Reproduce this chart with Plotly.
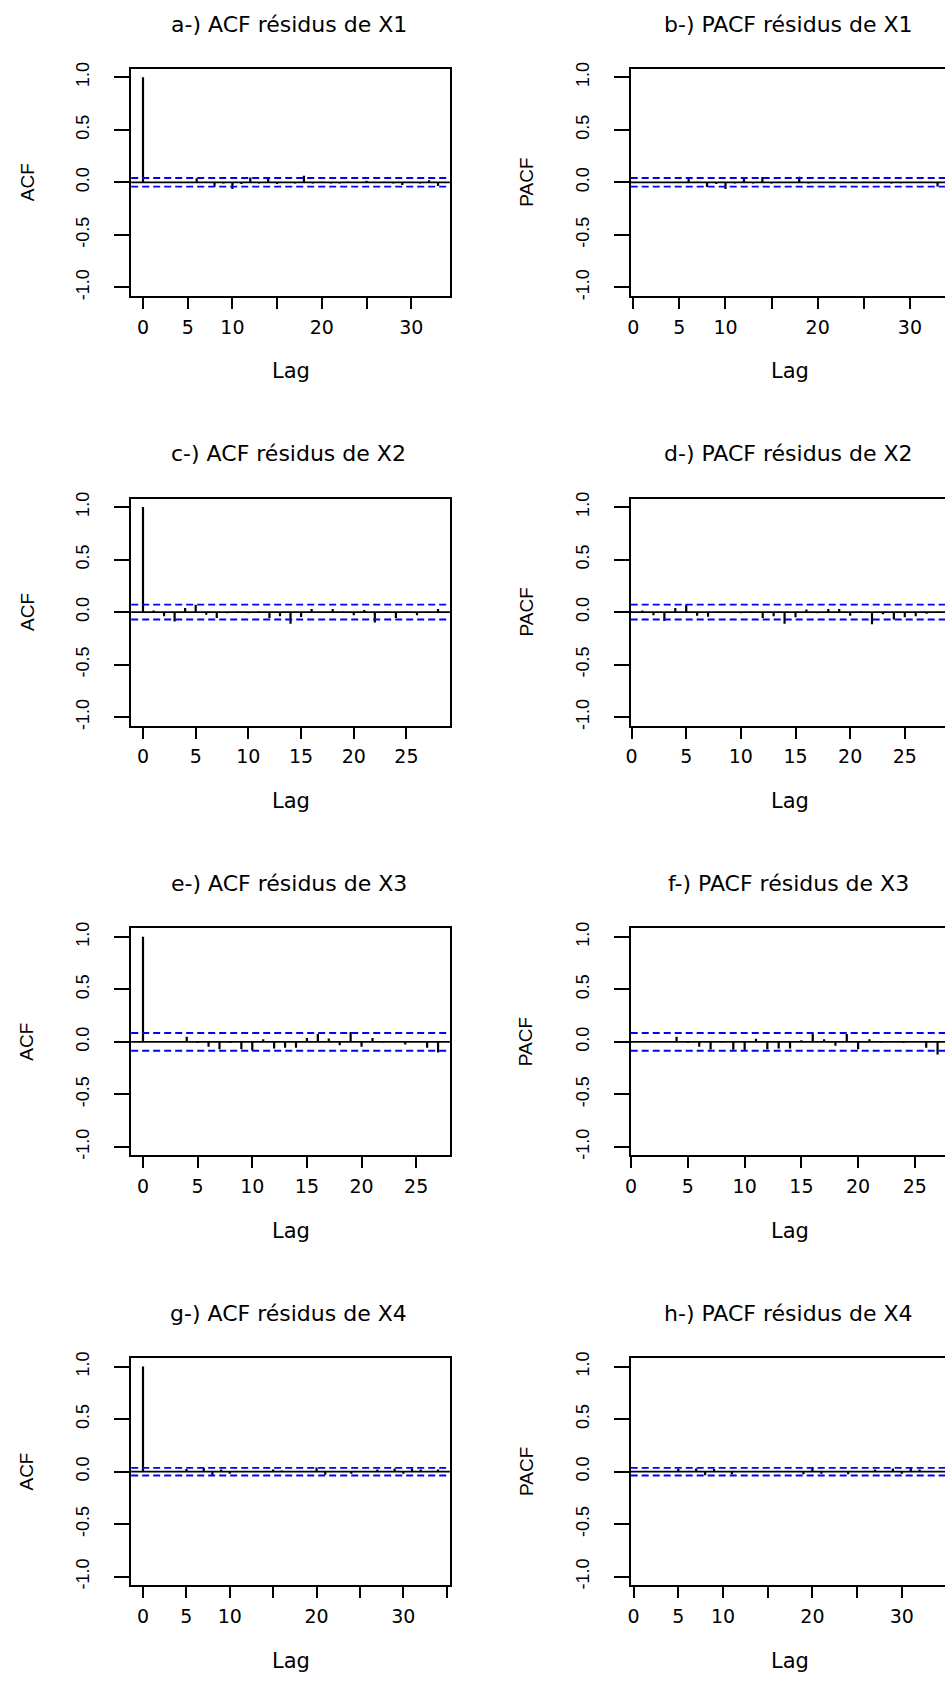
import plotly.graph_objects as go

# ---------------- data ----------------
panel_titles = [
    "a-) ACF résidus de X1", "b-) PACF résidus de X1",
    "c-) ACF résidus de X2", "d-) PACF résidus de X2",
    "e-) ACF résidus de X3", "f-) PACF résidus de X3",
    "g-) ACF résidus de X4", "h-) PACF résidus de X4",
]
y_labels = ["ACF", "PACF", "ACF", "PACF", "ACF", "PACF", "ACF", "PACF"]
x_label = "Lag"

acf_x1 = [1.0, 0.003, -0.003, 0.002, 0.003, 0.002, 0.04, 0.005, -0.04, -0.01,
          -0.063, -0.015, 0.047, -0.01, 0.045, -0.015, -0.005, -0.01, 0.063, -0.01,
          0.005, -0.01, -0.012, 0.005, -0.003, 0.015, -0.005, 0.005, -0.01, -0.025,
          0.003, -0.01, 0.02, -0.035]
pacf_x1 = [0.003, -0.003, 0.002, 0.003, 0.002, 0.045, 0.005, -0.045, -0.015, -0.063,
           -0.01, 0.045, -0.01, 0.05, -0.01, -0.003, -0.005, 0.053, -0.01, 0.003,
           -0.005, -0.005, 0.003, -0.003, 0.005, -0.005, 0.003, -0.01, -0.008, 0.003,
           -0.005, 0.003, -0.04]
acf_x2 = [1.0, 0.015, -0.04, -0.09, 0.04, 0.07, -0.025, -0.055, -0.01, 0.005,
          -0.01, 0.005, -0.055, -0.04, -0.11, -0.047, 0.03, -0.005, 0.03, 0.005,
          -0.03, 0.02, -0.1, 0.005, -0.055, 0.005, -0.03, 0.003, 0.03]
pacf_x2 = [0.015, -0.03, -0.085, 0.04, 0.07, -0.035, -0.045, 0.003, -0.005, -0.01,
           0.005, -0.055, -0.04, -0.11, -0.05, 0.025, -0.01, 0.03, 0.03, -0.035,
           0.005, -0.115, -0.02, -0.07, -0.05, -0.04, -0.015, 0.003]
acf_x3 = [1.0, 0.003, 0.005, 0.003, 0.05, -0.01, -0.047, -0.07, -0.01, -0.07,
          -0.082, 0.025, -0.063, -0.057, -0.057, 0.038, 0.075, 0.032, -0.032, 0.095,
          -0.047, 0.038, -0.005, 0.005, -0.025, 0.003, -0.057, -0.1]
pacf_x3 = [0.003, 0.003, 0.003, 0.05, -0.01, -0.047, -0.072, -0.005, -0.075, -0.082,
           0.03, -0.07, -0.063, -0.063, 0.015, 0.075, 0.025, -0.038, 0.075, -0.07,
           0.025, -0.005, 0.003, -0.01, 0.003, -0.057, -0.12]
acf_x4 = [1.0, 0.003, 0.003, 0.003, 0.005, 0.025, 0.005, 0.035, -0.035, 0.02,
          -0.02, 0.005, 0.003, 0.005, 0.003, 0.02, 0.01, 0.005, 0.003, 0.003,
          0.04, -0.03, 0.005, 0.003, -0.02, 0.003, 0.003, 0.02, 0.003, 0.03,
          -0.02, 0.03, 0.02, 0.005, 0.02]
pacf_x4 = [0.003, 0.003, 0.003, 0.003, 0.025, 0.003, 0.03, -0.035, 0.025, 0.005,
           -0.025, 0.003, 0.003, 0.003, 0.005, 0.003, 0.003, 0.003, -0.025, 0.04,
           -0.02, 0.003, 0.003, -0.025, 0.003, 0.003, 0.02, 0.003, 0.03, -0.02,
           0.035, 0.02, 0.003, 0.005]

conf_bounds = [0.041, 0.071, 0.084, 0.036]   # +/- 1.96/sqrt(n) for X1..X4

y_tick_vals = [-1.0, -0.5, 0.0, 0.5, 1.0]
y_tick_text = ["-1.0", "-0.5", "0.0", "0.5", "1.0"]

x_ticks_a = [0, 5, 10, 15, 20, 25, 30]
x_text_a = ["0", "5", "10", "", "20", "", "30"]
x_ticks_c = [0, 5, 10, 15, 20, 25]
x_text_c = ["0", "5", "10", "15", "20", "25"]
x_ticks_g = [0, 5, 10, 15, 20, 25, 30, 35]
x_text_g = ["0", "5", "10", "", "20", "", "30", ""]

series = [acf_x1, pacf_x1, acf_x2, pacf_x2, acf_x3, pacf_x3, acf_x4, pacf_x4]
ticks = [(x_ticks_a, x_text_a), (x_ticks_a, x_text_a),
         (x_ticks_c, x_text_c), (x_ticks_c, x_text_c),
         (x_ticks_c, x_text_c), (x_ticks_c, x_text_c),
         (x_ticks_g, x_text_g), (x_ticks_g, x_text_g)]

# ---------------- layout geometry (pixels) ----------------
W, H = 945, 1681
ROW_TOP0, ROW_STEP, BOX_H = 62.3, 432.6, 228.4
COL_LEFT = [126.0, 628.7]
BOX_W = 320.7
Y_RANGE = [-1.08, 1.08]

TXT_H = "DejaVu Sans"
TXT_V = "Liberation Sans"

fig = go.Figure()
layout = dict(width=W, height=H, margin=dict(l=0, r=0, t=0, b=0),
              paper_bgcolor="white", plot_bgcolor="white", showlegend=False)
shapes = []
annotations = []

for i, vals in enumerate(series):
    row, col = divmod(i, 2)
    is_acf = (col == 0)
    lags = list(range(0, len(vals))) if is_acf else list(range(1, len(vals) + 1))
    lo, hi = lags[0], lags[-1]
    ext = (hi - lo) * 0.04
    xr = [lo - ext, hi + ext]
    left = COL_LEFT[col]
    right = left + BOX_W
    top = ROW_TOP0 + ROW_STEP * row
    bot = top + BOX_H
    vis_right = min(right, W)
    xr_vis = [xr[0], xr[0] + (xr[1] - xr[0]) * (vis_right - left) / BOX_W]

    sfx = "" if i == 0 else str(i + 1)
    xa, ya = "x" + sfx, "y" + sfx
    xk, yk = "xaxis" + sfx, "yaxis" + sfx

    layout[xk] = dict(domain=[left / W, vis_right / W], range=xr_vis, anchor=ya,
                      showgrid=False, zeroline=False, showline=True, mirror=True,
                      linecolor="black", linewidth=2,
                      ticks="outside", ticklen=11, tickwidth=2, tickcolor="black",
                      tickmode="array", tickvals=ticks[i][0], ticktext=ticks[i][1],
                      tickfont=dict(family=TXT_H, size=19, color="black"),
                      ticklabelstandoff=2, fixedrange=True)
    layout[yk] = dict(domain=[1 - bot / H, 1 - top / H], range=Y_RANGE, anchor=xa,
                      showgrid=False, zeroline=False, showline=True,
                      mirror=is_acf, linecolor="black", linewidth=2,
                      ticks="outside", ticklen=15, tickwidth=2, tickcolor="black",
                      tickmode="array", tickvals=y_tick_vals, ticktext=y_tick_text,
                      tickangle=-90,
                      tickfont=dict(family=TXT_V, size=18, color="black"),
                      ticklabelstandoff=18, fixedrange=True)

    # spikes
    xs, ys = [], []
    for k, v in zip(lags, vals):
        xs += [k, k, None]
        ys += [0, v, None]
    fig.add_trace(go.Scatter(x=xs, y=ys, mode="lines", xaxis=xa, yaxis=ya,
                             line=dict(color="black", width=2.2), hoverinfo="skip"))

    # zero line and confidence bounds
    shapes.append(dict(type="line", xref=xa + " domain", yref=ya, x0=0, x1=1,
                       y0=0, y1=0, line=dict(color="black", width=1.8)))
    cb = conf_bounds[row]
    for s in (cb, -cb):
        shapes.append(dict(type="line", xref=xa + " domain", yref=ya, x0=0, x1=1,
                           y0=s, y1=s, line=dict(color="#0000ff", width=1.9,
                                                 dash="7px,4px")))

    cx = left + BOX_W / 2
    annotations.append(dict(text=panel_titles[i], xref="paper", yref="paper",
                            x=(cx - 2) / W, y=1 - (top - 45) / H, xanchor="center",
                            yanchor="middle", showarrow=False,
                            font=dict(family=TXT_H, size=22, color="black")))
    annotations.append(dict(text=x_label, xref="paper", yref="paper",
                            x=cx / W, y=1 - (bot + 76) / H, xanchor="center",
                            yanchor="middle", showarrow=False,
                            font=dict(family=TXT_H, size=21, color="black")))
    annotations.append(dict(text=y_labels[i], xref="paper", yref="paper",
                            x=(left - 105) / W, y=1 - ((top + bot) / 2) / H,
                            xanchor="center", yanchor="middle", textangle=-90,
                            showarrow=False,
                            font=dict(family=TXT_V, size=19, color="black")))

layout["shapes"] = shapes
layout["annotations"] = annotations
fig.update_layout(**layout)
fig.write_html("out.html", config={"displayModeBar": False},
               post_script="document.body.style.margin='0';"
                           "document.body.style.overflow='hidden';")
